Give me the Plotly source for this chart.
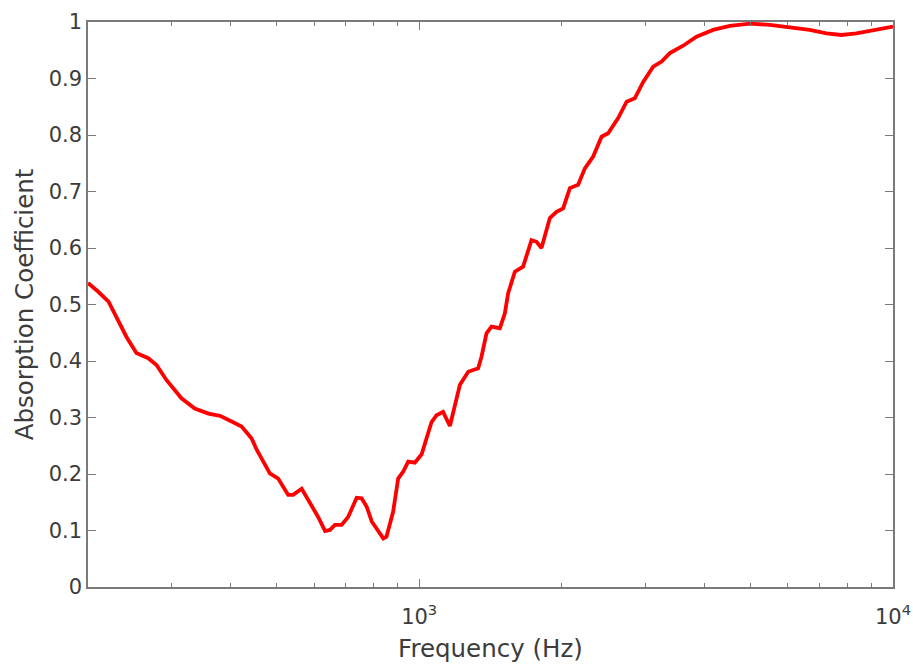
import plotly.graph_objects as go
import math

# Frequency (Hz) and absorption coefficient
freq = [200, 210, 221, 230, 241, 253, 268, 279, 293, 315, 336, 359, 380, 402, 422,
        443, 454, 484, 504, 529, 542, 565, 593, 612, 633, 648, 664, 686, 708, 738,
        756, 775, 794, 819, 840, 853, 881, 903, 925, 948, 979, 1012, 1037, 1062, 1088,
        1123, 1161, 1189, 1219, 1269, 1332, 1354, 1387, 1421, 1480, 1516, 1541, 1592,
        1657, 1726, 1769, 1812, 1887, 1949, 2013, 2080, 2165, 2237, 2329, 2426, 2505,
        2630, 2740, 2852, 2970, 3118, 3248, 3381, 3606, 3848, 4172, 4524, 4986, 5495,
        6054, 6671, 7238, 7784, 8372, 9075, 10000]
absorption = [0.538, 0.523, 0.505, 0.478, 0.443, 0.414, 0.405, 0.393, 0.366, 0.334,
              0.316, 0.307, 0.303, 0.293, 0.284, 0.263, 0.243, 0.201, 0.192, 0.163,
              0.163, 0.174, 0.145, 0.124, 0.099, 0.101, 0.110, 0.110, 0.124, 0.158,
              0.157, 0.142, 0.116, 0.101, 0.086, 0.089, 0.133, 0.192, 0.204, 0.222,
              0.220, 0.235, 0.266, 0.292, 0.304, 0.310, 0.285, 0.322, 0.358, 0.381,
              0.387, 0.408, 0.449, 0.461, 0.458, 0.484, 0.520, 0.558, 0.567, 0.614,
              0.611, 0.600, 0.653, 0.664, 0.670, 0.706, 0.712, 0.741, 0.762, 0.797,
              0.803, 0.830, 0.859, 0.865, 0.894, 0.921, 0.930, 0.945, 0.958, 0.974,
              0.986, 0.993, 0.997, 0.995, 0.991, 0.986, 0.980, 0.977, 0.980, 0.985,
              0.992]

x_major = [1000, 10000]
x_major_text = ["10<sup>3</sup>", "10<sup>4</sup>"]
x_minor = [200, 300, 400, 500, 600, 700, 800, 900,
           2000, 3000, 4000, 5000, 6000, 7000, 8000, 9000]

axis_col = "#7a7a7a"
text_col = "#3c3c3c"
font_fam = "DejaVu Sans, sans-serif"
x_range = [math.log10(200), 4]

fig = go.Figure()
fig.add_trace(go.Scatter(x=freq, y=absorption, mode="lines",
                         line=dict(color="#ff0000", width=3.8),
                         showlegend=False))
# invisible helper trace so the minor-tick axis is drawn
fig.add_trace(go.Scatter(x=[freq[0]], y=[absorption[0]], xaxis="x2", mode="markers",
                         marker=dict(opacity=0), showlegend=False, hoverinfo="skip"))

fig.update_layout(
    width=913, height=666,
    paper_bgcolor="white", plot_bgcolor="white",
    margin=dict(l=88, r=20, t=22, b=79),
    font=dict(family=font_fam, size=21, color=text_col),
    xaxis2=dict(type="log", range=x_range, overlaying="x", anchor="y", side="bottom",
                tickmode="array", tickvals=x_minor, showticklabels=False,
                ticks="inside", ticklen=4, tickwidth=1.3, tickcolor=axis_col,
                showline=False, mirror="ticks", showgrid=False, zeroline=False,
                automargin=False),
)
fig.layout.xaxis.update(
    type="log", range=x_range,
    tickmode="array", tickvals=x_major, ticktext=x_major_text,
    ticks="inside", ticklen=8, tickwidth=1.3, tickcolor=axis_col,
    showline=True, linecolor=axis_col, linewidth=1.5, mirror="ticks",
    showgrid=False, zeroline=False, automargin=False,
    ticklabelstandoff=10,
    title=dict(text="Frequency (Hz)", font=dict(size=24.5, color=text_col), standoff=12),
    tickfont=dict(size=21, color=text_col),
)
fig.update_yaxes(
    range=[0, 1], dtick=0.1, tick0=0,
    ticks="inside", ticklen=8, tickwidth=1.3, tickcolor=axis_col,
    showline=True, linecolor=axis_col, linewidth=1.5, mirror="ticks",
    showgrid=False, zeroline=False, automargin=False,
    title=dict(text="Absorption Coefficient", font=dict(size=24.5, color=text_col), standoff=8),
    tickfont=dict(size=21, color=text_col),
)

# remove the default page margin so the figure fills the window exactly
fig.write_html("out.html",
               config={"displayModeBar": False},
               post_script="document.body.style.margin='0';document.body.style.overflow='hidden';")
